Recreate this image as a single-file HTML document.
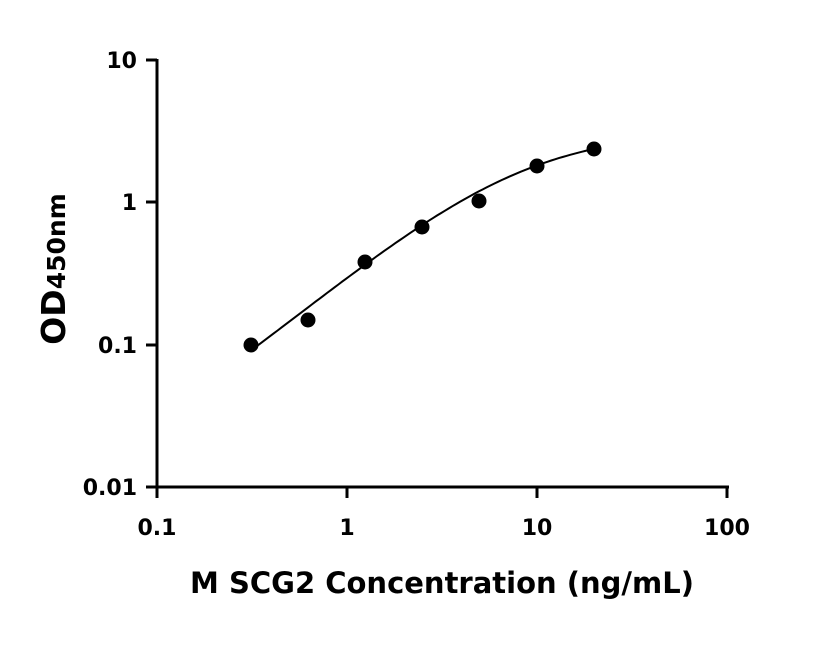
<!DOCTYPE html>
<html><head><meta charset="utf-8"><style>
html,body{margin:0;padding:0;background:#fff;}
svg text{font-family:"DejaVu Sans","Liberation Sans",sans-serif;font-weight:bold;fill:#000;}
</style></head><body>
<svg id="s" width="816" height="640" viewBox="0 0 816 640" xmlns="http://www.w3.org/2000/svg">
<g stroke="#000" stroke-width="3" fill="none">
<line x1="157" y1="59" x2="157" y2="498"/>
<line x1="146" y1="487" x2="729" y2="487"/>
<line x1="146" y1="60" x2="157" y2="60"/>
<line x1="146" y1="202" x2="157" y2="202"/>
<line x1="146" y1="345" x2="157" y2="345"/>
<line x1="347" y1="487" x2="347" y2="498"/>
<line x1="537" y1="487" x2="537" y2="498"/>
<line x1="727" y1="487" x2="727" y2="498"/>
</g>
<g font-size="22" text-anchor="end">
<text x="137" y="68">10</text>
<text x="137" y="210">1</text>
<text x="137" y="353">0.1</text>
<text x="137" y="495">0.01</text>
</g>
<g font-size="22" text-anchor="middle">
<text x="157" y="535">0.1</text>
<text x="347" y="535">1</text>
<text x="537" y="535">10</text>
<text x="727" y="535">100</text>
</g>
<text x="442" y="593" font-size="29" text-anchor="middle">M SCG2 Concentration (ng/mL)</text>
<text transform="translate(65,269) rotate(-90)" font-size="33" text-anchor="middle">OD<tspan font-size="25">450nm</tspan></text>
<path id="c" stroke="#000" stroke-width="2" fill="none"/>
<g fill="#000">
<circle cx="251" cy="345" r="7.5"/>
<circle cx="308" cy="320" r="7.5"/>
<circle cx="365" cy="262" r="7.5"/>
<circle cx="422" cy="227" r="7.5"/>
<circle cx="479" cy="201" r="7.5"/>
<circle cx="537" cy="166" r="7.5"/>
<circle cx="594" cy="149" r="7.5"/>
</g>
</svg>
<script>
var d="",n=0;
for(var lx=Math.log10(0.3125);lx<=Math.log10(20)+1e-9;lx+=0.02){
 var x=Math.pow(10,lx),t=Math.pow(x/8,1.12),y=3.2*t/(1+t)+0.008;
 var px=157+190*(lx+1),py=202-142.3*Math.log10(y);
 d+=(n++?"L":"M")+px.toFixed(1)+","+py.toFixed(1);
}
document.getElementById("c").setAttribute("d",d);
</script>
</body></html>
